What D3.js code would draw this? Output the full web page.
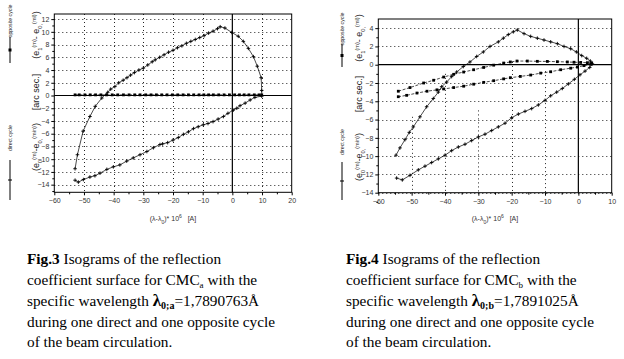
<!DOCTYPE html>
<html><head><meta charset="utf-8">
<script src="https://cdn.jsdelivr.net/npm/d3@7"></script>
<style>body{margin:0;background:#fff;} svg{display:block;}</style>
</head><body><svg id="c" width="624" height="359"></svg>
<script>
// ---------- data ----------
const leftXTicks = [-60,-50,-40,-30,-20,-10,0,10,20];
const leftYTicks = [12,10,8,6,4,2,0,-2,-4,-6,-8,-10,-12,-14];
const rightXTicks = [-60,-50,-40,-30,-20,-10,0,10];
const rightYTicks = [4,2,0,-2,-4,-6,-8,-10,-12,-14];

// Fig.3 direct cycle (+ markers)
const leftDirectX = [-53,-52.2,-50.3,-48,-46.2,-44,
  -42,-41,-39.6,-38.3,-36.8,-35.5,-34.3,-33,-31.5,-30,-28.5,-27,-26,-24.5,-23,-21.5,-20,-18.5,-17,-15.5,-14,-12.5,-11,-9.5,-8,-6.5,-5,-4.1,-2.5,
  -0.2,2,3.7,5.4,7.1,8.4,9.7,9.9,9.9,
  7.6,6,4.3,2.6,1.5,0.3,-1.5,-3,-4.8,-6.5,-8.2,-9.8,-11.5,-13.1,-14.8,-16.5,-18.2,-20,-21.8,-23.5,-24.4,-26.6,-28.8,-31.1,-33.4,-35.6,-37.9,-40.1,-42.3,-44.6,-46.3,-48,-50.2,-51.9,-53];
const leftDirectY = [-11.5,-9.3,-5.6,-3.3,-1.7,-0.4,
  0.5,1.0,1.4,2.0,2.4,2.8,3.2,3.6,4.0,4.3,4.8,5.3,5.6,6.0,6.4,6.8,7.1,7.5,7.8,8.2,8.5,8.8,9.1,9.4,9.8,10.1,10.5,10.8,10.6,
  9.9,9.3,8.5,7.4,6.1,4.6,2.8,0.8,-0.1,
  -0.3,-0.7,-1.2,-1.6,-2.0,-2.3,-2.8,-3.3,-3.7,-4.1,-4.4,-4.6,-4.9,-5.2,-5.7,-6.1,-6.6,-7.0,-7.4,-7.6,-7.7,-8.2,-8.8,-9.3,-9.8,-10.3,-10.9,-11.2,-11.6,-12.2,-12.6,-12.8,-13.2,-13.6,-13.3];
// Fig.3 opposite cycle (square markers)
const leftOppX = [-53,-51.6,-49.7,-47.9,-46.1,-44.3,-42.4,-40.5,-38.6,-36.7,-34.8,-32.9,-31.1,-29.2,-27.4,-25.6,-23.8,-22,-20.2,-18.4,-16.6,-14.8,-13,-11.2,-9.6,-8,-6.4,-4.6,-2.8,-1,0.8,2.4,4,5.6,7.4,9,9.9];
const leftOppY = [0.1,0.1,0.1,0.1,0.1,0.1,0.1,0.1,0.1,0.1,0.1,0.1,0.1,0.1,0.1,0.1,0.1,0.1,0.1,0.1,0.1,0.1,0.1,0.1,0.1,0.1,0.1,0.1,0.1,0.1,0.1,0.1,0.1,0.1,0.1,0.1,0.1];

// Fig.4 direct cycle (+ markers)
const rightDirectX = [-54.7,-53.5,-52,-50.7,-49.5,-47.5,-45.5,-43.5,-42,-41,-39.5,-38,-36.5,-34.5,-32.5,-30.5,-28.5,-26.5,-24,-22.5,-21,-19.5,-18.3,
  -16.3,-14.3,-12.3,-10.3,-8.3,-6.3,-4.3,-2.3,-0.6,1.0,2.5,3.6,4.2,
  3.4,2,0.5,-1.2,-3,-4.8,-6.5,-8.3,-10,-12,-14,-16,-18,-20,-22,-24,-26,-28,-30,-32,-34,-36,-38,-40,-42,-44,-46,-48,-50.5,-52.8,-54.5];
const rightDirectY = [-9.9,-9.1,-8.2,-7.4,-6.8,-5.7,-4.6,-3.7,-3.0,-2.4,-1.9,-1.3,-0.8,-0.2,0.3,0.9,1.4,2.0,2.5,2.9,3.3,3.6,3.8,
  3.4,3.1,2.9,2.7,2.5,2.3,2.0,1.75,1.4,1.0,0.7,0.4,0.1,
  -0.3,-0.7,-1.1,-1.6,-2.1,-2.6,-3.0,-3.4,-3.9,-4.4,-4.8,-5.1,-5.4,-5.8,-6.4,-6.8,-7.2,-7.6,-7.9,-8.3,-8.7,-9.0,-9.4,-9.9,-10.3,-10.7,-11.1,-11.5,-12.1,-12.6,-12.4];
// Fig.4 opposite cycle (square markers)
const rightOppX = [-54,-50.5,-46.4,-43.4,-40.4,-37.4,-34.4,-31.4,-28.4,-25.4,-22.4,-20.4,-18.4,-15.3,-12.3,-9.3,-6.3,-3.3,-1.3,0.7,2.7,4,
  3.7,1.7,-0.3,-2.3,-5.3,-8.3,-11.3,-14.3,-17.4,-20.4,-22.4,-25.4,-28.4,-31.4,-34.4,-37.4,-40.4,-42.4,-45.4,-48.4,-51.5,-54];
const rightOppY = [-2.9,-2.5,-2.0,-1.7,-1.35,-1.05,-0.8,-0.55,-0.3,-0.05,0.18,0.3,0.4,0.4,0.37,0.36,0.33,0.3,0.27,0.25,0.22,0.2,
  0.05,-0.1,-0.26,-0.38,-0.55,-0.77,-0.92,-1.13,-1.28,-1.42,-1.55,-1.75,-1.93,-2.13,-2.35,-2.5,-2.65,-2.75,-2.9,-3.1,-3.35,-3.5];

const captions = [
  {fig:"Fig.3", sub:"a", lam:"0;a", val:"=1,7890763Å"},
  {fig:"Fig.4", sub:"b", lam:"0;b", val:"=1,7891025Å"}
];

// ---------- drawing ----------
const svg = d3.select("#c");
svg.append("rect").attr("width",624).attr("height",359).attr("fill","#fff");

function zip(xs, ys){ return xs.map((v,i)=>[v, ys[i]]); }

function panel(cfg){
  const g = svg.append("g");
  const x = d3.scaleLinear().domain(cfg.xd).range([cfg.x0, cfg.x1]);
  const y = d3.scaleLinear().domain(cfg.yd).range([cfg.y1, cfg.y0]);
  // dotted grid
  g.append("g").selectAll("line").data(cfg.yTicks.filter(v=>v!==0)).join("line")
    .attr("x1",cfg.x0).attr("x2",cfg.x1).attr("y1",d=>Math.round(y(d))+0.5).attr("y2",d=>Math.round(y(d))+0.5)
    .attr("stroke","#222").attr("stroke-width",1).attr("stroke-dasharray","1,3");
  g.append("g").selectAll("line").data(cfg.vGrid).join("line")
    .attr("y1",d=>y(d[1])).attr("y2",d=>y(d[2])).attr("x1",d=>Math.round(x(d[0]))+0.5).attr("x2",d=>Math.round(x(d[0]))+0.5)
    .attr("stroke","#222").attr("stroke-width",1).attr("stroke-dasharray","1,3");
  // zero lines
  g.append("line").attr("x1",cfg.x0).attr("x2",cfg.x1).attr("y1",y(0)).attr("y2",y(0)).attr("stroke","#000").attr("stroke-width",1.2);
  g.append("line").attr("y1",cfg.y0).attr("y2",cfg.y1).attr("x1",x(0)).attr("x2",x(0)).attr("stroke","#000").attr("stroke-width",1.2);
  // frame
  g.append("rect").attr("x",cfg.x0).attr("y",cfg.y0).attr("width",cfg.x1-cfg.x0).attr("height",cfg.y1-cfg.y0)
    .attr("fill","none").attr("stroke","#000").attr("stroke-width",1);
  // axes
  g.append("g").attr("transform",`translate(0,${cfg.y1})`)
    .call(d3.axisBottom(x).tickValues(cfg.xTicks).tickSize(3).tickPadding(3).tickFormat(d3.format("d")));
  g.append("g").attr("transform",`translate(0,${cfg.y1})`)
    .call(d3.axisBottom(x).tickValues(cfg.xTicks.slice(1).map(v=>v-5)).tickSize(2).tickFormat(""));
  g.append("g").attr("transform",`translate(${cfg.x0},0)`)
    .call(d3.axisLeft(y).tickValues(cfg.yTicks).tickSize(3).tickPadding(2).tickFormat(d3.format("d")));
  g.append("g").attr("transform",`translate(${cfg.x0},0)`)
    .call(d3.axisLeft(y).tickValues(cfg.yTicks.map(v=>v-1)).tickSize(2).tickFormat(""));
  g.selectAll(".domain").remove();
  g.selectAll(".tick text").attr("font-family","Liberation Sans, Arial").attr("font-size",7).attr("fill","#333");
  g.selectAll(".tick line").attr("stroke","#000");
  // series
  const line = d3.line().x(d=>x(d[0])).y(d=>y(d[1]));
  const dir = zip(cfg.dx, cfg.dy), opp = zip(cfg.ox, cfg.oy);
  g.append("path").attr("d",line(dir)).attr("fill","none").attr("stroke","#000").attr("stroke-width",0.7);
  g.append("path").attr("d",line(opp)).attr("fill","none").attr("stroke","#000").attr("stroke-width",0.7).attr("stroke-dasharray","3,1.5");
  g.append("g").selectAll("path").data(dir).join("path")
    .attr("d",d=>`M${x(d[0])-1.8},${y(d[1])}h3.6M${x(d[0])},${y(d[1])-1.8}v3.6`).attr("stroke","#000").attr("stroke-width",0.9);
  g.append("g").selectAll("rect").data(opp).join("rect")
    .attr("x",d=>x(d[0])-1.4).attr("y",d=>y(d[1])-1.4).attr("width",2.8).attr("height",2.8).attr("fill","#000");
  // y titles
  const rt = (tx, ty, size, parts) => {
    const t = svg.append("text").attr("transform",`translate(${tx},${ty}) rotate(-90)`)
      .attr("text-anchor","middle").attr("font-family","Liberation Sans, Arial").attr("font-size",size).attr("fill","#222");
    parts.forEach(p => {
      const s = t.append("tspan").text(p[0]);
      if (p[1]) s.attr("font-size", size*0.62).attr("baseline-shift", p[1]);
    });
  };
  const L = cfg.lab;
  rt(L.cx, L.oppY, 5.2, [["opposite cycle"]]);
  rt(L.cx, L.dirY, 5.2, [["direct cycle"]]);
  rt(L.ex, L.e1Y, 9, [["(e"],["1","sub"],["(m)","super"],["- e"],["0,","sub"],["(ml)","super"],[")"]]);
  rt(L.ex, L.arcY, 9, [["[arc sec.]"]]);
  rt(L.ex, L.e0Y, 9, [["(e"],["0","sub"],["(m)","super"],["-e"],["0,","sub"],["(min)","super"],[")"]]);
  // legend symbols
  const lx = L.cx - 2;
  svg.append("line").attr("x1",lx).attr("x2",lx).attr("y1",L.oppL[0]).attr("y2",L.oppL[1]).attr("stroke","#000").attr("stroke-width",1);
  svg.append("rect").attr("x",lx-1.5).attr("y",(L.oppL[0]+L.oppL[1])/2-1.5).attr("width",3).attr("height",3).attr("fill","#000");
  svg.append("line").attr("x1",lx).attr("x2",lx).attr("y1",L.dirL[0]).attr("y2",L.dirL[1]).attr("stroke","#000").attr("stroke-width",1);
  const my = (L.dirL[0]+L.dirL[1])/2;
  svg.append("path").attr("d",`M${lx-2},${my}h4`).attr("stroke","#000").attr("stroke-width",1);
  // x title
  const xt = svg.append("text").attr("x",cfg.xtx).attr("y",221).attr("text-anchor","middle")
    .attr("font-family","Liberation Sans, Arial").attr("font-size",7).attr("fill","#333");
  xt.append("tspan").text("(λ-λ");
  xt.append("tspan").text("0").attr("font-size",5).attr("baseline-shift","sub");
  xt.append("tspan").text(")* 10");
  xt.append("tspan").text("6").attr("font-size",5).attr("baseline-shift","super");
  xt.append("tspan").text("   [A]").attr("xml:space","preserve");
}

panel({x0:54.3, x1:291.7, y0:14, y1:192.3, xd:[-60,20], yd:[-15.2,12.8],
  xTicks:leftXTicks, yTicks:leftYTicks,
  vGrid:[[-50,12.8,-15.2],[-40,12.8,-15.2],[-30,12.8,-15.2],[-20,12.8,-15.2],[-10,12.8,-15.2],[10,12.8,-15.2]],
  dx:leftDirectX, dy:leftDirectY, ox:leftOppX, oy:leftOppY, xtx:173,
  lab:{cx:12, ex:39, oppY:21, dirY:138, e1Y:35, arcY:92, e0Y:147, oppL:[37,63], dirL:[160,200]}});

panel({x0:378.3, x1:611.7, y0:19, y1:192.7, xd:[-60,10], yd:[-14,5],
  xTicks:rightXTicks, yTicks:rightYTicks,
  vGrid:[[-50,-5.7,-14],[-40,-1,-14],[-30,-5,-14],[-20,0.3,-14],[-10,-0.7,-14]],
  dx:rightDirectX, dy:rightDirectY, ox:rightOppX, oy:rightOppY, xtx:495,
  lab:{cx:344, ex:362, oppY:29, dirY:142, e1Y:38, arcY:94, e0Y:157, oppL:[44,67], dirL:[162,200]}});

// captions
captions.forEach((c, i) => {
  const x0 = i === 0 ? 27 : 346;
  const base = [264, 285, 306, 327, 347];
  const mk = (yy) => svg.append("text").attr("x",x0).attr("y",yy)
    .attr("font-family","Liberation Serif, Times New Roman").attr("font-size",15.3).attr("fill","#000");
  let t = mk(base[0]);
  t.append("tspan").text(c.fig).attr("font-weight","bold");
  t.append("tspan").text(" Isograms of the reflection");
  t = mk(base[1]);
  t.append("tspan").text("coefficient surface for CMC");
  t.append("tspan").text(c.sub).attr("font-size",9).attr("dy",3);
  t.append("tspan").text(" with the").attr("dy",-3);
  t = mk(base[2]);
  t.append("tspan").text("specific wavelength ");
  t.append("tspan").text("λ").attr("font-weight","bold").attr("font-size",17);
  t.append("tspan").text(c.lam).attr("font-weight","bold").attr("font-size",10).attr("dy",3);
  t.append("tspan").text(c.val).attr("dy",-3);
  mk(base[3]).text("during one direct and one opposite cycle");
  mk(base[4]).text("of the beam circulation.");
});
</script></body></html>
